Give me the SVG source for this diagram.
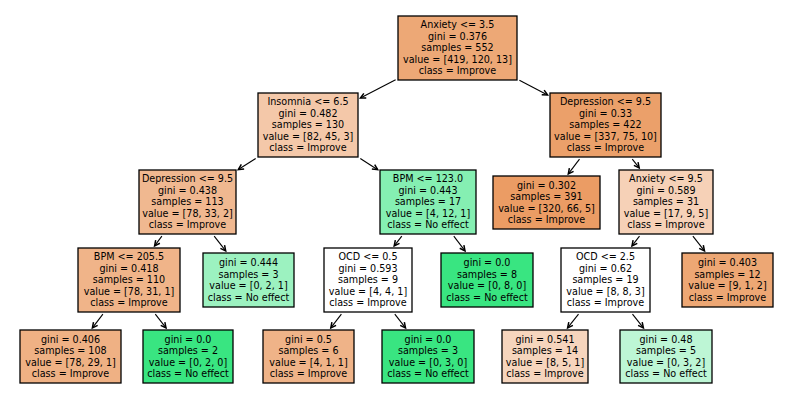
<svg xmlns="http://www.w3.org/2000/svg" width="794" height="405" viewBox="0 0 794 405">
<defs>
<style>
.box{stroke:#000;stroke-width:1.3}
text{font-family:"DejaVu Sans","Liberation Sans",sans-serif;font-size:9.6px;fill:#000;text-anchor:middle}
.edge{stroke:#000;stroke-width:1.1;fill:none;marker-end:url(#ah)}
</style>
<marker id="ah" markerUnits="userSpaceOnUse" markerWidth="10" markerHeight="10" refX="0" refY="0" viewBox="-6 -4 8 8" orient="auto">
<path d="M-4.2,-2.1 L0,0 L-4.2,2.1" fill="none" stroke="#000" stroke-width="1.2"/>
</marker>
</defs>
<rect width="794" height="405" fill="#fff"/>
<g id="connectors">
<line class="edge" x1="395.6" y1="79.8" x2="360.4" y2="98.1"/>
<line class="edge" x1="519.4" y1="80.2" x2="547.6" y2="94.9"/>
<line class="edge" x1="255.7" y1="158.5" x2="238.3" y2="169.5"/>
<line class="edge" x1="360.3" y1="158.5" x2="377.7" y2="169.7"/>
<line class="edge" x1="579.5" y1="159.1" x2="568.3" y2="173.9"/>
<line class="edge" x1="632.3" y1="159.1" x2="639.2" y2="167.9"/>
<line class="edge" x1="161.9" y1="236.2" x2="154.6" y2="245.8"/>
<line class="edge" x1="214.2" y1="236.1" x2="225.7" y2="250.9"/>
<line class="edge" x1="401.8" y1="236.1" x2="394.2" y2="245.9"/>
<line class="edge" x1="453.8" y1="236.2" x2="465" y2="250.8"/>
<line class="edge" x1="639.5" y1="236.1" x2="632" y2="245.9"/>
<line class="edge" x1="692.9" y1="236.1" x2="704.5" y2="250.9"/>
<line class="edge" x1="102.9" y1="314.1" x2="92.4" y2="327.9"/>
<line class="edge" x1="155.3" y1="314.1" x2="166" y2="327.9"/>
<line class="edge" x1="341.4" y1="314.1" x2="330.8" y2="327.9"/>
<line class="edge" x1="394.8" y1="314.1" x2="405.5" y2="327.9"/>
<line class="edge" x1="578.5" y1="314.1" x2="567.6" y2="327.9"/>
<line class="edge" x1="632.5" y1="314.1" x2="643.4" y2="327.9"/>
</g>
<g id="n0"><rect class="box" x="398" y="16" width="119" height="64" fill="#eda876"/>
<text y="28.4"><tspan x="457.5">Anxiety &lt;= 3.5</tspan><tspan x="457.5" dy="11.5">gini = 0.376</tspan><tspan x="457.5" dy="11.5">samples = 552</tspan><tspan x="457.5" dy="11.5">value = [419, 120, 13]</tspan><tspan x="457.5" dy="11.5">class = Improve</tspan></text></g>
<g id="n1"><rect class="box" x="258" y="93" width="100" height="64" fill="#f4c8a9"/>
<text y="105.4"><tspan x="308">Insomnia &lt;= 6.5</tspan><tspan x="308" dy="11.5">gini = 0.482</tspan><tspan x="308" dy="11.5">samples = 130</tspan><tspan x="308" dy="11.5">value = [82, 45, 3]</tspan><tspan x="308" dy="11.5">class = Improve</tspan></text></g>
<g id="n2"><rect class="box" x="550" y="93" width="111" height="64" fill="#eba06a"/>
<text y="105.4"><tspan x="605.5">Depression &lt;= 9.5</tspan><tspan x="605.5" dy="11.5">gini = 0.33</tspan><tspan x="605.5" dy="11.5">samples = 422</tspan><tspan x="605.5" dy="11.5">value = [337, 75, 10]</tspan><tspan x="605.5" dy="11.5">class = Improve</tspan></text></g>
<g id="n3"><rect class="box" x="139" y="170" width="97" height="64" fill="#f0b890"/>
<text y="182.4"><tspan x="187.5">Depression &lt;= 9.5</tspan><tspan x="187.5" dy="11.5">gini = 0.438</tspan><tspan x="187.5" dy="11.5">samples = 113</tspan><tspan x="187.5" dy="11.5">value = [78, 33, 2]</tspan><tspan x="187.5" dy="11.5">class = Improve</tspan></text></g>
<g id="n4"><rect class="box" x="380" y="170" width="96" height="64" fill="#85efb2"/>
<text y="182.4"><tspan x="428">BPM &lt;= 123.0</tspan><tspan x="428" dy="11.5">gini = 0.443</tspan><tspan x="428" dy="11.5">samples = 17</tspan><tspan x="428" dy="11.5">value = [4, 12, 1]</tspan><tspan x="428" dy="11.5">class = No effect</tspan></text></g>
<g id="n5"><rect class="box" x="493" y="176" width="107" height="53" fill="#eb9c64"/>
<text y="188.65"><tspan x="546.5">gini = 0.302</tspan><tspan x="546.5" dy="11.5">samples = 391</tspan><tspan x="546.5" dy="11.5">value = [320, 66, 5]</tspan><tspan x="546.5" dy="11.5">class = Improve</tspan></text></g>
<g id="n6"><rect class="box" x="619" y="170" width="94" height="64" fill="#f6d1b7"/>
<text y="182.4"><tspan x="666">Anxiety &lt;= 9.5</tspan><tspan x="666" dy="11.5">gini = 0.589</tspan><tspan x="666" dy="11.5">samples = 31</tspan><tspan x="666" dy="11.5">value = [17, 9, 5]</tspan><tspan x="666" dy="11.5">class = Improve</tspan></text></g>
<g id="n7"><rect class="box" x="78" y="248" width="102" height="64" fill="#f0b489"/>
<text y="260.4"><tspan x="129">BPM &lt;= 205.5</tspan><tspan x="129" dy="11.5">gini = 0.418</tspan><tspan x="129" dy="11.5">samples = 110</tspan><tspan x="129" dy="11.5">value = [78, 31, 1]</tspan><tspan x="129" dy="11.5">class = Improve</tspan></text></g>
<g id="n8"><rect class="box" x="203" y="253" width="91" height="54" fill="#9cf2c0"/>
<text y="266.15"><tspan x="248.5">gini = 0.444</tspan><tspan x="248.5" dy="11.5">samples = 3</tspan><tspan x="248.5" dy="11.5">value = [0, 2, 1]</tspan><tspan x="248.5" dy="11.5">class = No effect</tspan></text></g>
<g id="n9"><rect class="box" x="324" y="248" width="88" height="64" fill="#ffffff"/>
<text y="260.4"><tspan x="368">OCD &lt;= 0.5</tspan><tspan x="368" dy="11.5">gini = 0.593</tspan><tspan x="368" dy="11.5">samples = 9</tspan><tspan x="368" dy="11.5">value = [4, 4, 1]</tspan><tspan x="368" dy="11.5">class = Improve</tspan></text></g>
<g id="n10"><rect class="box" x="441" y="253" width="92" height="54" fill="#39e581"/>
<text y="266.15"><tspan x="487">gini = 0.0</tspan><tspan x="487" dy="11.5">samples = 8</tspan><tspan x="487" dy="11.5">value = [0, 8, 0]</tspan><tspan x="487" dy="11.5">class = No effect</tspan></text></g>
<g id="n11"><rect class="box" x="561" y="248" width="89" height="64" fill="#ffffff"/>
<text y="260.4"><tspan x="605.5">OCD &lt;= 2.5</tspan><tspan x="605.5" dy="11.5">gini = 0.62</tspan><tspan x="605.5" dy="11.5">samples = 19</tspan><tspan x="605.5" dy="11.5">value = [8, 8, 3]</tspan><tspan x="605.5" dy="11.5">class = Improve</tspan></text></g>
<g id="n12"><rect class="box" x="682" y="253" width="91" height="54" fill="#eda774"/>
<text y="266.15"><tspan x="727.5">gini = 0.403</tspan><tspan x="727.5" dy="11.5">samples = 12</tspan><tspan x="727.5" dy="11.5">value = [9, 1, 2]</tspan><tspan x="727.5" dy="11.5">class = Improve</tspan></text></g>
<g id="n13"><rect class="box" x="20" y="330" width="101" height="53" fill="#efb184"/>
<text y="342.65"><tspan x="70.5">gini = 0.406</tspan><tspan x="70.5" dy="11.5">samples = 108</tspan><tspan x="70.5" dy="11.5">value = [78, 29, 1]</tspan><tspan x="70.5" dy="11.5">class = Improve</tspan></text></g>
<g id="n14"><rect class="box" x="143" y="330" width="90" height="53" fill="#39e581"/>
<text y="342.65"><tspan x="188">gini = 0.0</tspan><tspan x="188" dy="11.5">samples = 2</tspan><tspan x="188" dy="11.5">value = [0, 2, 0]</tspan><tspan x="188" dy="11.5">class = No effect</tspan></text></g>
<g id="n15"><rect class="box" x="263" y="330" width="91" height="53" fill="#efb388"/>
<text y="342.65"><tspan x="308.5">gini = 0.5</tspan><tspan x="308.5" dy="11.5">samples = 6</tspan><tspan x="308.5" dy="11.5">value = [4, 1, 1]</tspan><tspan x="308.5" dy="11.5">class = Improve</tspan></text></g>
<g id="n16"><rect class="box" x="382" y="330" width="92" height="53" fill="#39e581"/>
<text y="342.65"><tspan x="428">gini = 0.0</tspan><tspan x="428" dy="11.5">samples = 3</tspan><tspan x="428" dy="11.5">value = [0, 3, 0]</tspan><tspan x="428" dy="11.5">class = No effect</tspan></text></g>
<g id="n17"><rect class="box" x="502" y="330" width="86" height="53" fill="#f6d5bd"/>
<text y="342.65"><tspan x="545">gini = 0.541</tspan><tspan x="545" dy="11.5">samples = 14</tspan><tspan x="545" dy="11.5">value = [8, 5, 1]</tspan><tspan x="545" dy="11.5">class = Improve</tspan></text></g>
<g id="n18"><rect class="box" x="620" y="330" width="92" height="53" fill="#bdf6d5"/>
<text y="342.65"><tspan x="666">gini = 0.48</tspan><tspan x="666" dy="11.5">samples = 5</tspan><tspan x="666" dy="11.5">value = [0, 3, 2]</tspan><tspan x="666" dy="11.5">class = No effect</tspan></text></g>
</svg>
